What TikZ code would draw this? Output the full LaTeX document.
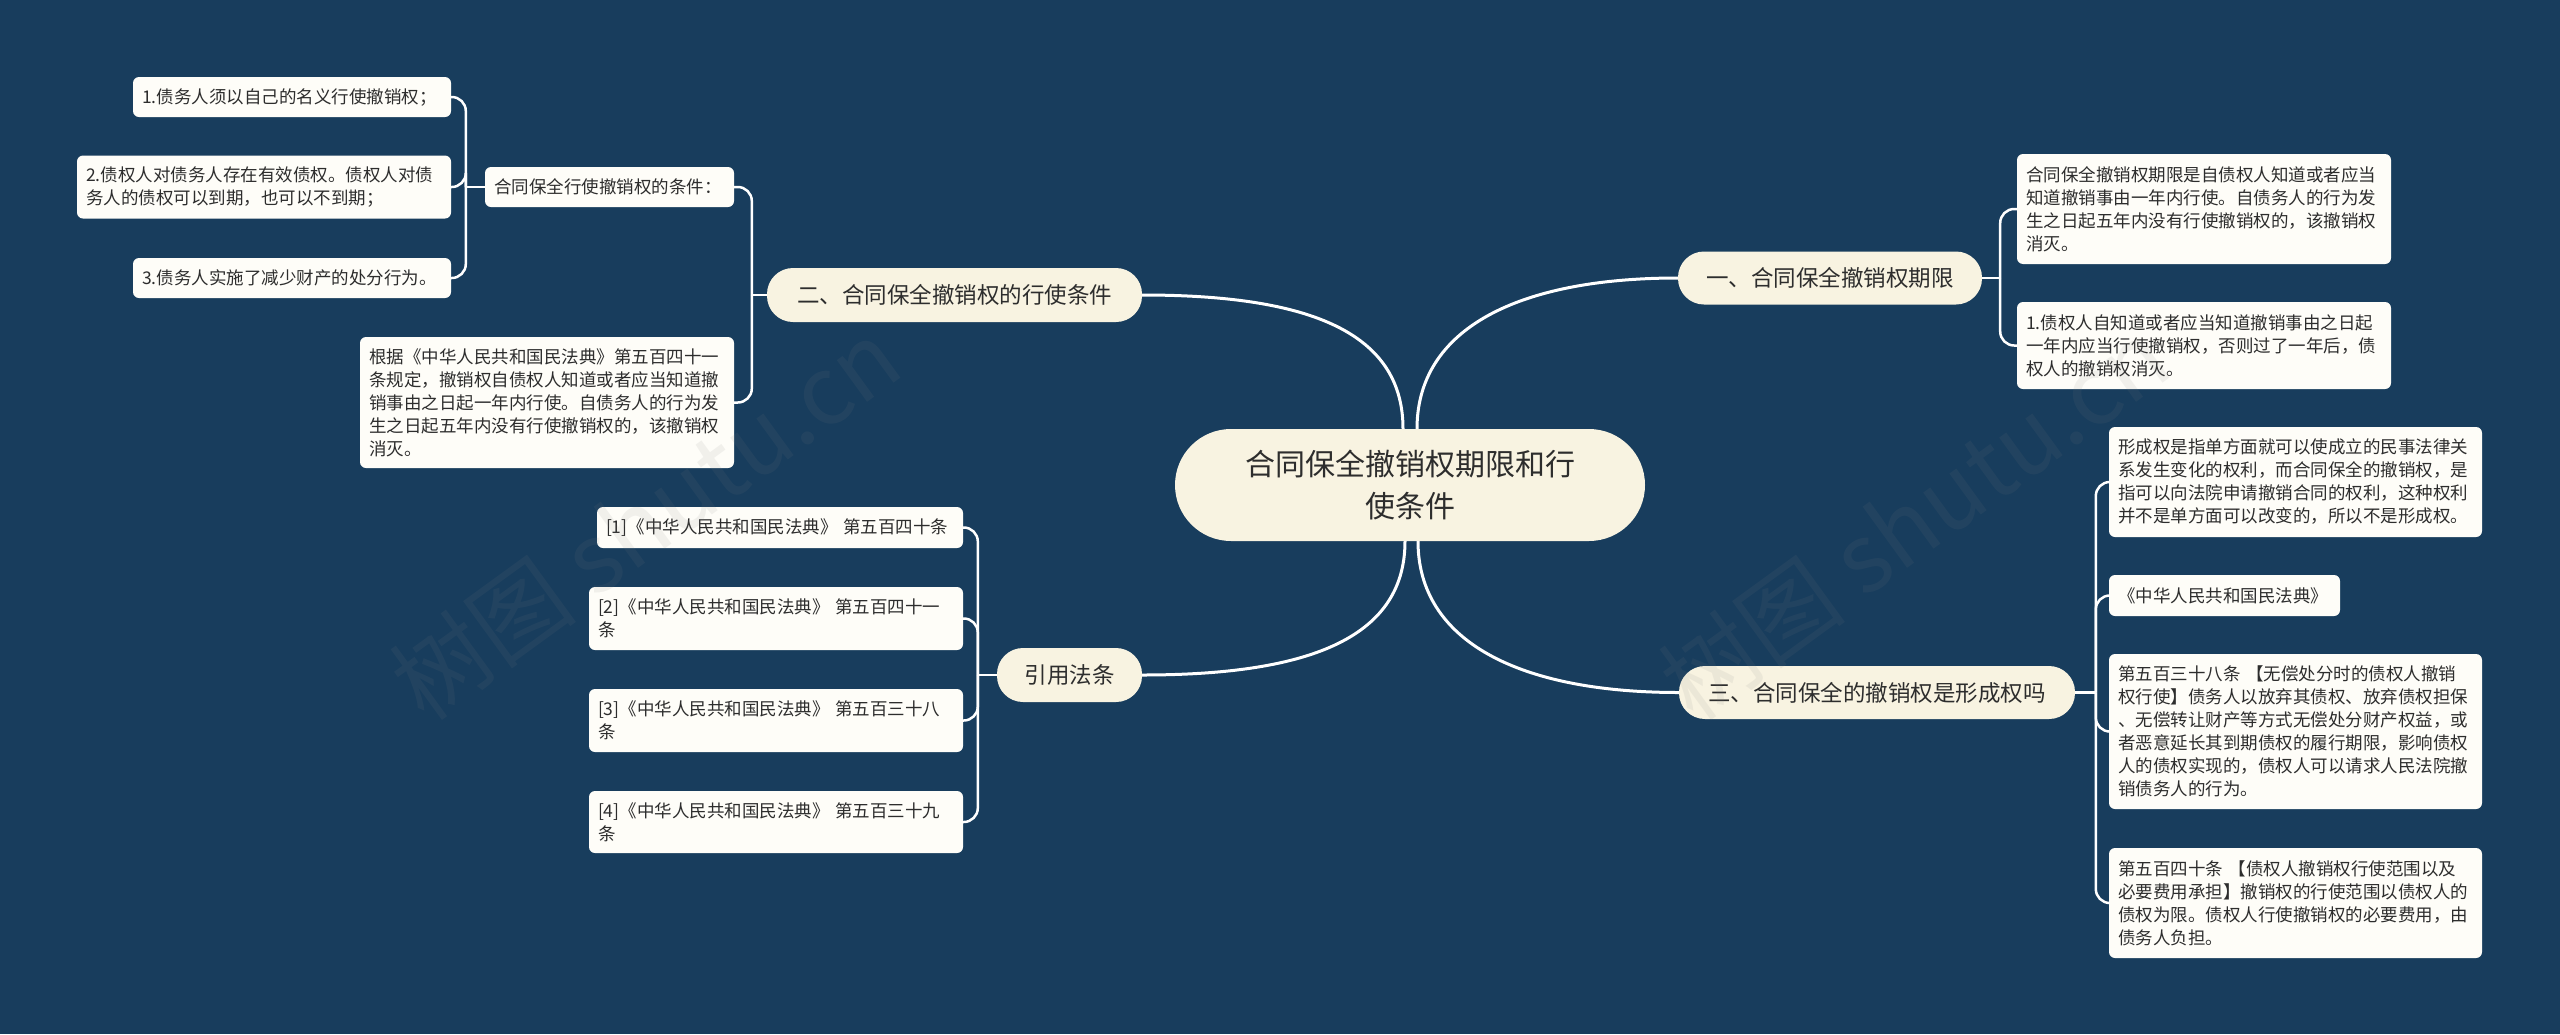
\documentclass[tikz,border=0pt]{standalone}
\usepackage{fontspec}
\setmainfont{Noto Sans CJK SC}
\usepackage{tikz}
\usetikzlibrary{calc}

\definecolor{bgblue}{RGB}{24,61,93}
\definecolor{topicfill}{RGB}{248,243,225}
\definecolor{leaffill}{RGB}{254,253,248}
\definecolor{inkgray}{RGB}{45,45,45}

\begin{document}
\begin{tikzpicture}[x=1pt,y=-1pt,
  leaf/.style={fill=leaffill,rounded corners=6pt,text=inkgray,align=left,inner xsep=9pt,inner ysep=0pt,font=\fontsize{17.5}{23}\selectfont},
  topic/.style={fill=topicfill,rounded corners=26pt,text=inkgray,inner sep=0pt,font=\fontsize{22.5}{28}\selectfont},
  link/.style={draw=white,line width=3pt},
  fork/.style={draw=white,line width=2.5pt,rounded corners=14pt}]
  \useasboundingbox (0,0) rectangle (2560,1034);
  \fill[bgblue] (0,0) rectangle (2560,1034);

  % centre and main branches
  \node[topic,rounded corners=56pt,minimum width=470pt,minimum height=112pt,align=center,font=\fontsize{30}{42}\selectfont] (root) at (1410,485) {合同保全撤销权期限和行\\使条件};
  \node[topic,minimum width=304pt,minimum height=53pt] (b1) at (1830,278) {一、合同保全撤销权期限};
  \node[topic,minimum width=375pt,minimum height=54pt] (b2) at (954.5,295) {二、合同保全撤销权的行使条件};
  \node[topic,minimum width=396pt,minimum height=53pt] (b3) at (1877,692.5) {三、合同保全的撤销权是形成权吗};
  \node[topic,minimum width=145pt,minimum height=54pt] (b4) at (1069.5,675) {引用法条};

  % branch one
  \node[leaf,text width=356pt,minimum height=110pt] (b1a) at (2204,209) {合同保全撤销权期限是自债权人知道或者应当\\知道撤销事由一年内行使。自债务人的行为发\\生之日起五年内没有行使撤销权的，该撤销权\\消灭。};
  \node[leaf,text width=356pt,minimum height=87pt] (b1b) at (2204,345.5) {1.债权人自知道或者应当知道撤销事由之日起\\一年内应当行使撤销权，否则过了一年后，债\\权人的撤销权消灭。};

  % branch two
  \node[leaf,text width=231pt,minimum height=40pt] (cond) at (609.5,187) {合同保全行使撤销权的条件：};
  \node[leaf,text width=300pt,minimum height=40pt] (c1) at (292,97) {1.债务人须以自己的名义行使撤销权；};
  \node[leaf,text width=356pt,minimum height=63pt] (c2) at (264,187) {2.债权人对债务人存在有效债权。债权人对债\\务人的债权可以到期，也可以不到期；};
  \node[leaf,text width=300pt,minimum height=40pt] (c3) at (292,278) {3.债务人实施了减少财产的处分行为。};
  \node[leaf,text width=356pt,minimum height=131pt] (b2b) at (547,402.5) {根据《中华人民共和国民法典》第五百四十一\\条规定，撤销权自债权人知道或者应当知道撤\\销事由之日起一年内行使。自债务人的行为发\\生之日起五年内没有行使撤销权的，该撤销权\\消灭。};

  % branch three
  \node[leaf,text width=355pt,minimum height=110pt] (b3a) at (2295.5,482) {形成权是指单方面就可以使成立的民事法律关\\系发生变化的权利，而合同保全的撤销权，是\\指可以向法院申请撤销合同的权利，这种权利\\并不是单方面可以改变的，所以不是形成权。};
  \node[leaf,text width=213pt,minimum height=41pt] (b3b) at (2224.5,595.5) {《中华人民共和国民法典》};
  \node[leaf,text width=355pt,minimum height=155pt] (b3c) at (2295.5,731.5) {第五百三十八条 【无偿处分时的债权人撤销\\权行使】债务人以放弃其债权、放弃债权担保\\、无偿转让财产等方式无偿处分财产权益，或\\者恶意延长其到期债权的履行期限，影响债权\\人的债权实现的，债权人可以请求人民法院撤\\销债务人的行为。};
  \node[leaf,text width=355pt,minimum height=110pt] (b3d) at (2295.5,903) {第五百四十条 【债权人撤销权行使范围以及\\必要费用承担】撤销权的行使范围以债权人的\\债权为限。债权人行使撤销权的必要费用，由\\债务人负担。};

  % cited articles
  \node[leaf,text width=348pt,minimum height=41pt] (r1) at (780,527.5) {[1]《中华人民共和国民法典》 第五百四十条};
  \node[leaf,text width=356pt,minimum height=63pt] (r2) at (776,618.5) {[2]《中华人民共和国民法典》 第五百四十一\\条};
  \node[leaf,text width=356pt,minimum height=63pt] (r3) at (776,720.5) {[3]《中华人民共和国民法典》 第五百三十八\\条};
  \node[leaf,text width=356pt,minimum height=62pt] (r4) at (776,822) {[4]《中华人民共和国民法典》 第五百三十九\\条};

  % links from the centre
  \draw[link] ($(root.north)+(7,0)$) .. controls +(0,-100) and +(-160,0) .. (b1.west);
  \draw[link] ($(root.north)+(-7,0)$) .. controls +(0,-100) and +(160,0) .. (b2.east);
  \draw[link] ($(root.south)+(8,0)$) .. controls +(0,100) and +(-160,0) .. (b3.west);
  \draw[link] ($(root.south)+(-5,0)$) .. controls +(0,100) and +(160,0) .. (b4.east);

  % forks to the leaves
  \coordinate (t1) at ($(b1.east)+(18,0)$);
  \draw[fork] (b1.east) -- (t1);
  \foreach \c in {b1a,b1b} \draw[fork] (t1) |- (\c.west);
  \coordinate (t3) at ($(b3.west)+(417,0)$);
  \draw[fork] (b3.east) -- (t3);
  \foreach \c in {b3a,b3b,b3c,b3d} \draw[fork] (t3) |- (\c.west);
  \coordinate (t2) at ($(b2.west)+(-15,0)$);
  \draw[fork] (b2.west) -- (t2);
  \foreach \c in {cond,b2b} \draw[fork] (t2) |- (\c.east);
  \coordinate (tc) at ($(cond.west)+(-19,0)$);
  \draw[fork] (cond.west) -- (tc);
  \foreach \c in {c1,c2,c3} \draw[fork] (tc) |- (\c.east);
  \coordinate (t4) at ($(b4.west)+(-19,0)$);
  \draw[fork] (b4.west) -- (t4);
  \foreach \c in {r1,r2,r3,r4} \draw[fork] (t4) |- (\c.east);

  % watermarks
  \node[rotate=36,text=gray,opacity=0.1,font=\fontsize{95}{95}\selectfont] (wm1) at (645,519) {树图 shutu.cn};
  \node[rotate=36,text=gray,opacity=0.1,font=\fontsize{95}{95}\selectfont] (wm2) at (1914,519) {树图 shutu.cn};
\end{tikzpicture}
\end{document}
